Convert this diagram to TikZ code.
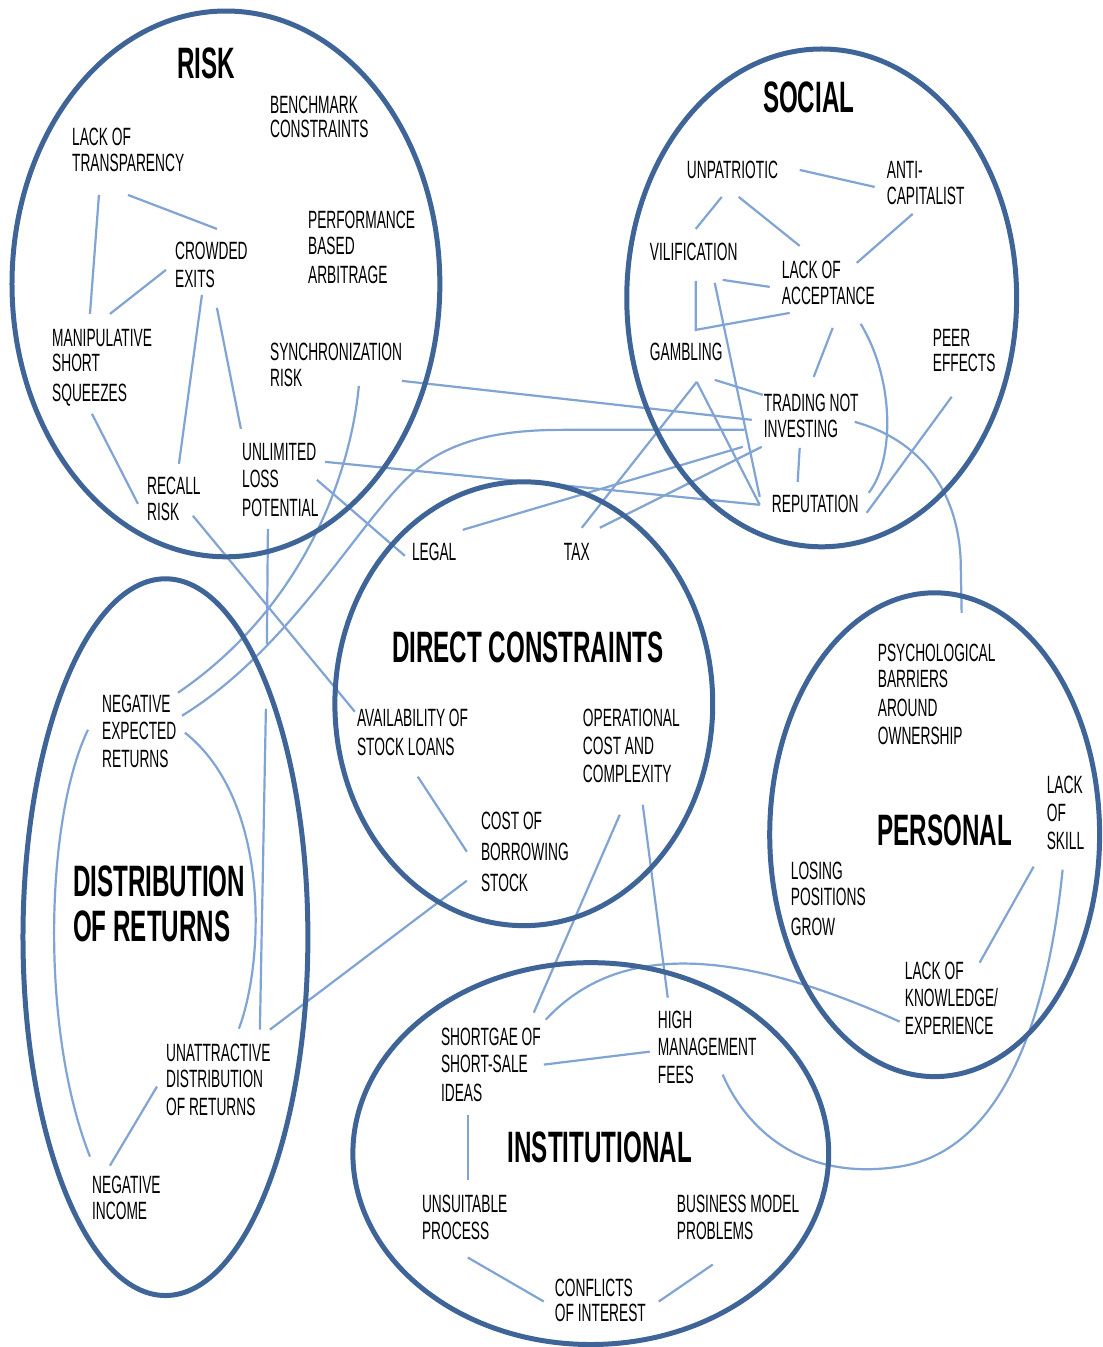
\documentclass[tikz,border=0pt]{standalone}
\usepackage{fontspec}
\newfontfamily\labfont[FakeStretch=0.55]{Liberation Sans}
\definecolor{ringblue}{RGB}{62,100,152}
\definecolor{linkblue}{RGB}{128,164,212}
\pgfdeclarelayer{bg}
\pgfdeclarelayer{mid}
\pgfsetlayers{bg,mid,main}
\begin{document}
\begin{tikzpicture}[x=1pt,y=-1pt,
  lbl/.style={font=\labfont\fontsize{25}{27}\selectfont, align=left, anchor=north west, inner sep=0pt, text=black},
  ttl/.style={font=\labfont\bfseries\fontsize{44}{45}\selectfont, inner sep=0pt, text=black},
  conn/.style={draw=linkblue, line width=2.2pt},
  ring/.style={draw=ringblue, line width=5pt}]

% ---------- RISK ----------
\node[ttl] (tRisk) at (206,63) {RISK};
\node[lbl] (nBench) at (270,96) {BENCHMARK\\[-3pt]CONSTRAINTS};
\node[lbl] (nLT) at (72,128) {LACK OF\\[-1pt]TRANSPARENCY};
\node[lbl] (nPerf) at (308,211) {PERFORMANCE\\[-1pt]BASED\\[2pt]ARBITRAGE};
\node[lbl] (nCrowd) at (175,242) {CROWDED\\[1pt]EXITS};
\node[lbl] (nManip) at (52,329) {MANIPULATIVE\\[-2pt]SHORT\\[3pt]SQUEEZES};
\node[lbl] (nSync) at (270,343) {SYNCHRONIZATION\\[-1pt]RISK};
\node[lbl] (nUnl) at (242,443) {UNLIMITED\\LOSS\\[2pt]POTENTIAL};
\node[lbl] (nRecall) at (147,477) {RECALL\\[-1pt]RISK};

% ---------- SOCIAL ----------
\node[ttl] (tSocial) at (809,97) {SOCIAL};
\node[lbl] (nUnpat) at (687,161) {UNPATRIOTIC};
\node[lbl] (nAnti) at (887,161) {ANTI-\\[-1pt]CAPITALIST};
\node[lbl] (nVil) at (650,243) {VILIFICATION};
\node[lbl] (nLoa) at (782,261) {LACK OF\\[-1pt]ACCEPTANCE};
\node[lbl] (nPeer) at (933,329) {PEER\\[-2pt]EFFECTS};
\node[lbl] (nGamb) at (650,343) {GAMBLING};
\node[lbl] (nTrad) at (764,394) {TRADING NOT\\[-1pt]INVESTING};
\node[lbl] (nRep) at (772,495) {REPUTATION};

% ---------- DIRECT CONSTRAINTS ----------
\node[lbl] (nLegal) at (412,543) {LEGAL};
\node[lbl] (nTax) at (564,543) {TAX};
\node[ttl] (tDirect) at (528,648) {DIRECT CONSTRAINTS};
\node[lbl] (nAvail) at (357,709) {AVAILABILITY OF\\[2pt]STOCK LOANS};
\node[lbl] (nOper) at (583,709) {OPERATIONAL\\[1pt]COST AND\\[1pt]COMPLEXITY};
\node[lbl] (nCost) at (481,812) {COST OF\\[4pt]BORROWING\\[4pt]STOCK};

% ---------- DISTRIBUTION OF RETURNS ----------
\node[lbl] (nNeg) at (102,695) {NEGATIVE\\EXPECTED\\[1pt]RETURNS};
\node[ttl, align=left, anchor=north west] (tDist) at (73,866) {DISTRIBUTION\\OF RETURNS};
\node[lbl] (nUnatt) at (166,1044) {UNATTRACTIVE\\[-1pt]DISTRIBUTION\\[1pt]OF RETURNS};
\node[lbl] (nNegInc) at (92,1176) {NEGATIVE\\[-1pt]INCOME};

% ---------- PERSONAL ----------
\node[lbl] (nPsy) at (878,644) {PSYCHOLOGICAL\\[-1pt]BARRIERS\\[2pt]AROUND\\[1pt]OWNERSHIP};
\node[lbl] (nSkill) at (1047,776) {LACK\\[1pt]OF\\[1pt]SKILL};
\node[ttl] (tPersonal) at (945,831) {PERSONAL};
\node[lbl] (nLosing) at (791,862) {LOSING\\[-1pt]POSITIONS\\[3pt]GROW};
\node[lbl] (nKnow) at (905,962) {LACK OF\\KNOWLEDGE/\\[1pt]EXPERIENCE};

% ---------- INSTITUTIONAL ----------
\node[lbl] (nShort) at (441,1028) {SHORTGAE OF\\SHORT-SALE\\[2pt]IDEAS};
\node[lbl] (nHigh) at (658,1011) {HIGH\\MANAGEMENT\\[1pt]FEES};
\node[ttl] (tInst) at (600,1148) {INSTITUTIONAL};
\node[lbl] (nUnsuit) at (422,1195) {UNSUITABLE\\PROCESS};
\node[lbl] (nBiz) at (677,1195) {BUSINESS MODEL\\PROBLEMS};
\node[lbl] (nConf) at (555,1279) {CONFLICTS\\[-2pt]OF INTEREST};

\coordinate (gapA) at (267,644);
\coordinate (gapB) at (266,709);

\begin{pgfonlayer}{bg}
\fill[white] (0,0) rectangle (1102,1347);
% links inside RISK
\draw[conn] ([shift={(27,67)}]nLT.north west) -- ([shift={(38,-15)}]nManip.north west);
\draw[conn] ([shift={(56,67)}]nLT.north west) -- ([shift={(42,-13)}]nCrowd.north west);
\draw[conn] ([shift={(-9,28)}]nCrowd.north west) -- ([shift={(58,-15)}]nManip.north west);
\draw[conn] ([shift={(27,53)}]nCrowd.north west) -- ([shift={(32,-13)}]nRecall.north west);
\draw[conn] ([shift={(42,66)}]nCrowd.north west) -- ([shift={(-1,-14)}]nUnl.north west);
\draw[conn] ([shift={(40,85)}]nManip.north west) -- ([shift={(-9,27)}]nRecall.north west);
% links leaving RISK
\draw[conn] ([shift={(89,43)}]nSync.north west) .. controls (350,480) and (300,610) .. ([shift={(76,-2)}]nNeg.north west);
\draw[conn] ([shift={(80,21)}]nNeg.north west) .. controls (290,650) and (360,520) .. (413,473) .. controls (450,440) and (500,430) .. (563,430) -- ([shift={(-19,36)}]nTrad.north west);
\draw[conn] ([shift={(132,38)}]nSync.north west) -- ([shift={(-12,26)}]nTrad.north west);
\draw[conn] ([shift={(83,19)}]nUnl.north west) -- ([shift={(-12,10)}]nRep.north west);
\draw[conn] ([shift={(75,37)}]nUnl.north west) -- ([shift={(-7,13)}]nLegal.north west);
\draw[conn] ([shift={(46,39)}]nRecall.north west) -- ([shift={(-2,3)}]nAvail.north west);
\draw[conn] ([shift={(26,86)}]nUnl.north west) -- (gapA);
\draw[conn] (gapB) -- ([shift={(94,-14)}]nUnatt.north west);
% links from LEGAL and TAX
\draw[conn] ([shift={(51,-13)}]nLegal.north west) -- ([shift={(-21,53)}]nTrad.north west);
\draw[conn] ([shift={(18,-15)}]nTax.north west) -- ([shift={(47,39)}]nGamb.north west);
\draw[conn] ([shift={(36,-15)}]nTax.north west) -- ([shift={(-2,53)}]nTrad.north west);
% links inside SOCIAL
\draw[conn] ([shift={(113,9)}]nUnpat.north west) -- ([shift={(-12,26)}]nAnti.north west);
\draw[conn] ([shift={(35,36)}]nUnpat.north west) -- ([shift={(46,-14)}]nVil.north west);
\draw[conn] ([shift={(52,36)}]nUnpat.north west) -- ([shift={(18,-15)}]nLoa.north west);
\draw[conn] ([shift={(26,53)}]nAnti.north west) -- ([shift={(75,2)}]nLoa.north west);
\draw[conn] ([shift={(73,37)}]nVil.north west) -- ([shift={(-12,26)}]nLoa.north west);
\draw[conn] ([shift={(46,38)}]nVil.north west) -- ([shift={(46,-13)}]nGamb.north west) -- ([shift={(8,52)}]nLoa.north west);
\draw[conn] ([shift={(65,40)}]nVil.north west) -- ([shift={(-12,2)}]nRep.north west);
\draw[conn] ([shift={(51,67)}]nLoa.north west) -- ([shift={(50,-17)}]nTrad.north west);
\draw[conn] ([shift={(79,63)}]nLoa.north west) .. controls (895,380) and (895,460) .. ([shift={(97,-2)}]nRep.north west);
\draw[conn] ([shift={(19,68)}]nPeer.north west) -- ([shift={(95,18)}]nRep.north west);
\draw[conn] ([shift={(65,37)}]nGamb.north west) -- ([shift={(-1,1)}]nTrad.north west);
\draw[conn] ([shift={(36,54)}]nTrad.north west) -- ([shift={(26,-13)}]nRep.north west);
\draw[conn] ([shift={(47,39)}]nGamb.north west) -- ([shift={(-12,10)}]nRep.north west);
\draw[conn] ([shift={(91,28)}]nTrad.north west) .. controls (920,440) and (958,490) .. (961,560) -- ([shift={(84,-31)}]nPsy.north west);
% links inside DIRECT CONSTRAINTS and beyond
\draw[conn] ([shift={(61,68)}]nAvail.north west) -- ([shift={(-14,40)}]nCost.north west);
\draw[conn] ([shift={(37,106)}]nOper.north west) -- ([shift={(93,-15)}]nShort.north west);
\draw[conn] ([shift={(60,96)}]nOper.north west) -- ([shift={(10,-13)}]nHigh.north west);
\draw[conn] ([shift={(104,-14)}]nUnatt.north west) -- ([shift={(-14,69)}]nCost.north west);
% links inside DISTRIBUTION OF RETURNS
\draw[conn] ([shift={(-14,35)}]nNeg.north west) .. controls (45,820) and (40,1030) .. ([shift={(-2,-19)}]nNegInc.north west);
\draw[conn] ([shift={(83,38)}]nNeg.north west) .. controls (270,800) and (265,960) .. ([shift={(73,-15)}]nUnatt.north west);
\draw[conn] ([shift={(-9,43)}]nUnatt.north west) -- ([shift={(18,-10)}]nNegInc.north west);
% links of PERSONAL
\draw[conn] ([shift={(-13,91)}]nSkill.north west) -- ([shift={(75,1)}]nKnow.north west);
\draw[conn] ([shift={(16,94)}]nSkill.north west) .. controls (1050,1000) and (1010,1150) .. (900,1167) .. controls (790,1184) and (740,1115) .. ([shift={(65,64)}]nHigh.north west);
\draw[conn] ([shift={(-5,60)}]nKnow.north west) .. controls (740,950) and (620,940) .. ([shift={(105,-8)}]nShort.north west);
% links inside INSTITUTIONAL
\draw[conn] ([shift={(103,37)}]nShort.north west) -- ([shift={(-8,41)}]nHigh.north west);
\draw[conn] ([shift={(27,87)}]nShort.north west) -- ([shift={(46,-15)}]nUnsuit.north west);
\draw[conn] ([shift={(46,63)}]nUnsuit.north west) -- ([shift={(-11,23)}]nConf.north west);
\draw[conn] ([shift={(104,23)}]nConf.north west) -- ([shift={(36,70)}]nBiz.north west);
\end{pgfonlayer}

\begin{pgfonlayer}{mid}
\draw[ring] (226,284) ellipse [x radius=214pt, y radius=273pt];
\draw[ring] (822,298) ellipse [x radius=195pt, y radius=249pt];
\draw[ring] (524,704) ellipse [x radius=189pt, y radius=222pt];
\draw[ring] (165.5,937.5) ellipse [x radius=142.5pt, y radius=358.5pt];
\draw[ring] (935,835) ellipse [x radius=165pt, y radius=242pt];
\draw[ring] (591,1154) ellipse [x radius=238pt, y radius=191pt];
\end{pgfonlayer}

\useasboundingbox (0,0) rectangle (1102,1347);
\end{tikzpicture}
\end{document}
